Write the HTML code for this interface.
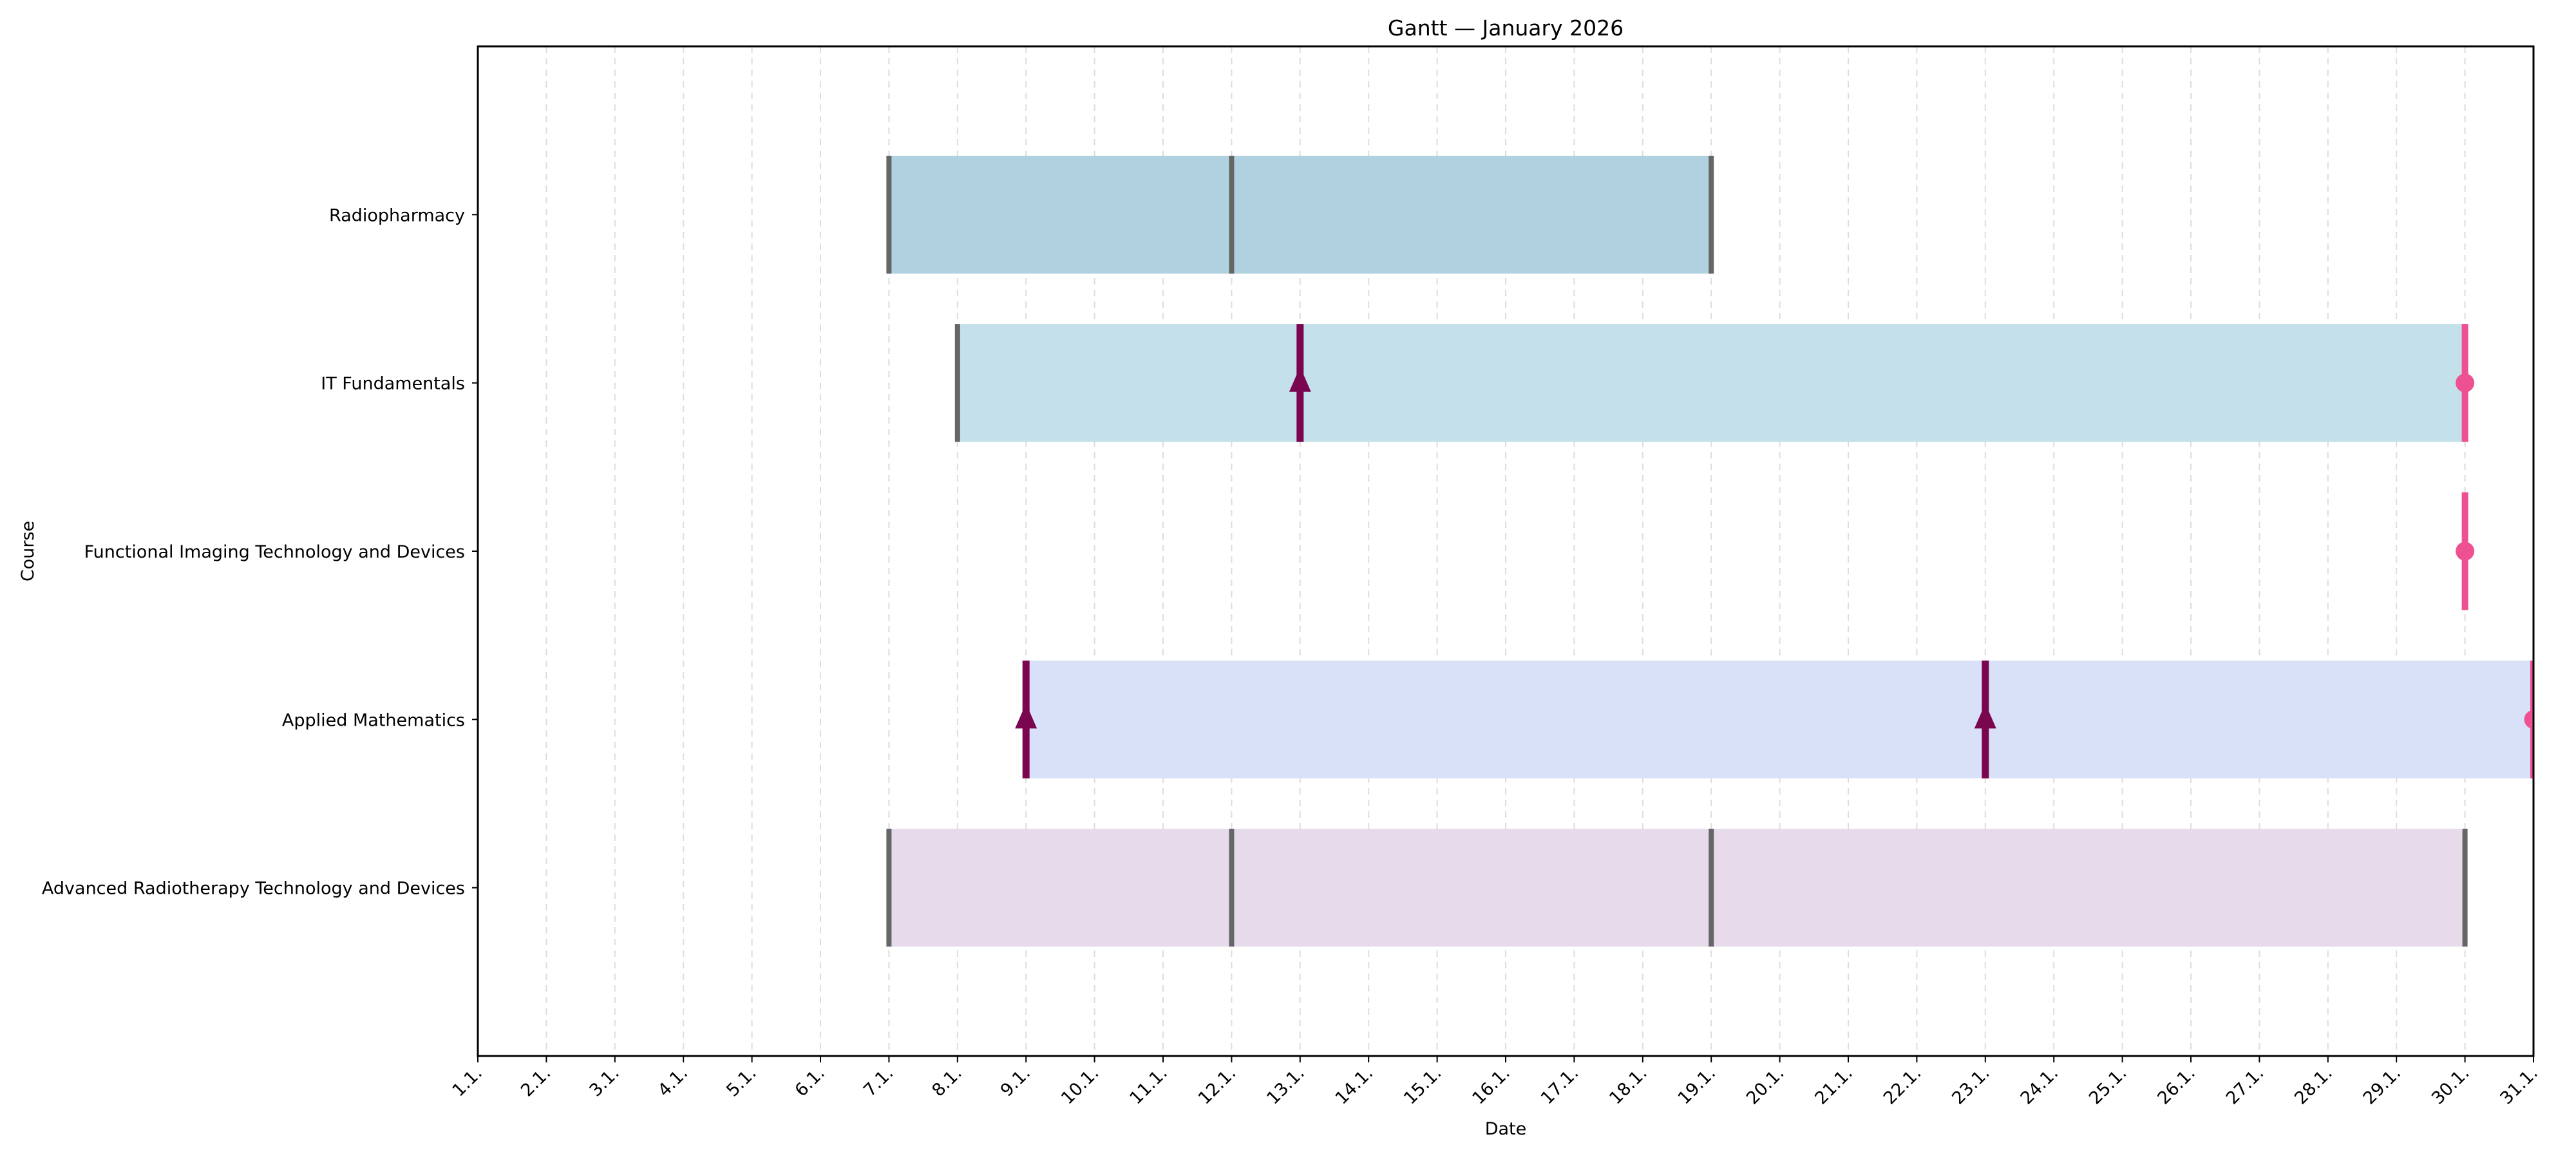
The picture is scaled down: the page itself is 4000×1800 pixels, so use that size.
<!DOCTYPE html>
<html><head><meta charset="utf-8"><style>
html,body{margin:0;padding:0;background:#fff;}
svg{display:block;font-family:"DejaVu Sans","Liberation Sans",sans-serif;}
</style></head><body>
<svg id="chart" width="4000" height="1800" viewBox="0 0 4000 1800" xmlns="http://www.w3.org/2000/svg"></svg>
<script>
const courses = ["Radiopharmacy","IT Fundamentals","Functional Imaging Technology and Devices","Applied Mathematics","Advanced Radiotherapy Technology and Devices"];
const barStarts = [7, 8, null, 9, 7];
const barEnds = [19, 30, null, 31, 30];
const barColors = ["#b0d2e0","#c4e0ea",null,"#d9e1f8","#e6daeb"];
const grayMarks = [[7,12,19],[8],[],[],[7,12,19,30]];
const triangleMarks = [[],[13],[],[9,23],[]];
const circleMarks = [[],[30],[30],[31],[]];
const dayTicks = [];
for (let d = 1; d <= 31; d++) dayTicks.push(d);

const L = 742, R = 3934, T = 72, B = 1640;
const xMin = 1, xMax = 31, yMin = -1, yMax = 5;
const X = d => L + (d - xMin) / (xMax - xMin) * (R - L);
const Y = i => T + (i - yMin) / (yMax - yMin) * (B - T);
const NS = "http://www.w3.org/2000/svg";
const svg = document.getElementById("chart");
function mk(tag, attrs, parent) {
  const e = document.createElementNS(NS, tag);
  for (const k in attrs) e.setAttribute(k, attrs[k]);
  (parent || svg).appendChild(e);
  return e;
}
const defs = mk("defs", {});
const cp = mk("clipPath", {id: "plotclip"}, defs);
mk("rect", {x: L, y: T, width: R - L, height: B - T}, cp);

dayTicks.forEach(d => {
  const g = mk("line", {x1: X(d), x2: X(d), y1: T, y2: B, stroke: "#dddddd", "stroke-width": 2, "stroke-dasharray": "10,8"});
  
  
});

const plot = mk("g", {"clip-path": "url(#plotclip)"});



courses.forEach((c, i) => {
  const cy = Y(i), h = 183;
  if (barStarts[i] !== null) {
    const r = mk("rect", {x: X(barStarts[i]), y: cy - h/2, width: X(barEnds[i]) - X(barStarts[i]), height: h, fill: barColors[i]}, plot);
    
    
  }
  grayMarks[i].forEach(d => {
    const l = mk("line", {x1: X(d), x2: X(d), y1: cy - h/2, y2: cy + h/2, stroke: "#666666", "stroke-width": 8}, plot);
    
    
  });
  triangleMarks[i].forEach(d => {
    const g = mk("g", {}, plot);
    
    
    mk("line", {x1: X(d), x2: X(d), y1: cy - h/2, y2: cy + h/2, stroke: "#7b0650", "stroke-width": 11}, g);
    const x = X(d);
    mk("polygon", {points: `${x},${cy-25} ${x-17},${cy+14} ${x+17},${cy+14}`, fill: "#7b0650"}, g);
  });
  circleMarks[i].forEach(d => {
    const g = mk("g", {}, plot);
    
    
    mk("line", {x1: X(d), x2: X(d), y1: cy - h/2, y2: cy + h/2, stroke: "#ee5192", "stroke-width": 10}, g);
    mk("circle", {cx: X(d), cy: cy, r: 14.5, fill: "#ee5192"}, g);
  });
});

const frame = mk("rect", {x: L, y: T, width: R - L, height: B - T, fill: "none", stroke: "#000", "stroke-width": 3});



courses.forEach((c, i) => {
  mk("line", {x1: L - 9, x2: L, y1: Y(i), y2: Y(i), stroke: "#000", "stroke-width": 2});
  const t = mk("text", {x: L - 20, y: Y(i) + 10, "text-anchor": "end", "font-size": 27, fill: "#000"});
  t.textContent = c;
  
  
});

dayTicks.forEach(d => {
  mk("line", {x1: X(d), x2: X(d), y1: B, y2: B + 10, stroke: "#000", "stroke-width": 2});
  const t = mk("text", {x: X(d) + 8, y: B + 28, "text-anchor": "end", "font-size": 27, fill: "#000", transform: `rotate(-45 ${X(d)+8} ${B+28})`});
  t.textContent = d + ".1.";
  
  
});

const title = mk("text", {x: (L + R) / 2, y: 55, "text-anchor": "middle", "font-size": 33, fill: "#000"});
title.textContent = "Gantt — January 2026";



const xl = mk("text", {x: (L + R) / 2, y: 1762, "text-anchor": "middle", "font-size": 27, fill: "#000"});
xl.textContent = "Date";



const yl = mk("text", {x: 52, y: (T + B) / 2, "text-anchor": "middle", "font-size": 27, fill: "#000", transform: `rotate(-90 52 ${(T+B)/2})`});
yl.textContent = "Course";


</script>
</body></html>
